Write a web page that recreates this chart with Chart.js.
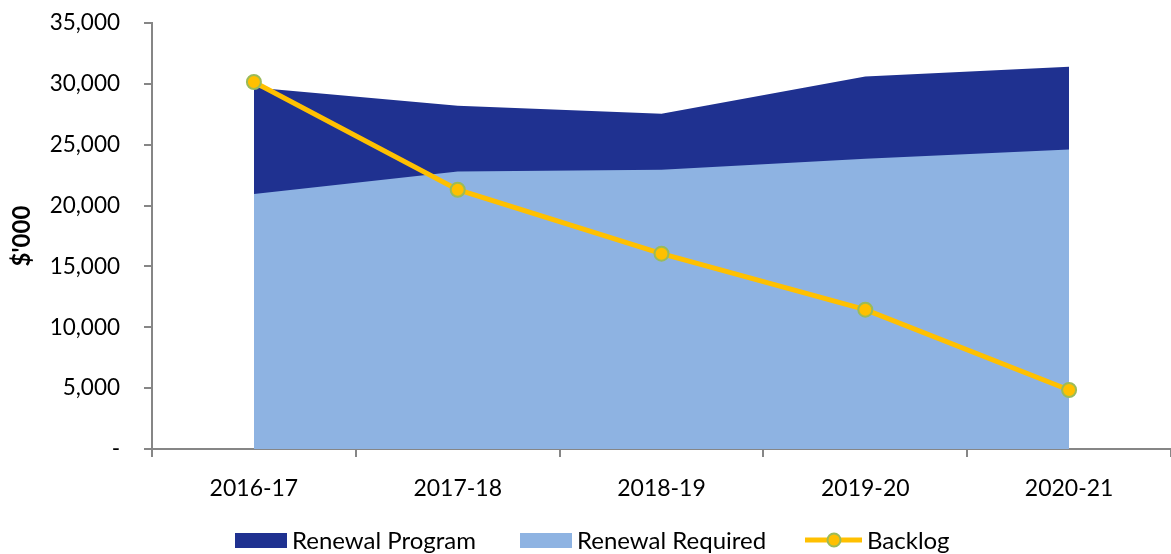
<!DOCTYPE html>
<html>
<head>
<meta charset="utf-8">
<script src="https://cdn.jsdelivr.net/npm/chart.js@4.4.0/dist/chart.umd.min.js"></script>
<style>
  html, body { margin: 0; padding: 0; background: #fff; }
  #wrap { width: 1171px; height: 554px; position: relative; }
</style>
</head>
<body>
<div id="wrap"><canvas id="chart"></canvas></div>
<script>
// values in $'000
const years = ['2016-17', '2017-18', '2018-19', '2019-20', '2020-21'];
const renewalRequired = [20950, 22800, 22950, 23850, 24600];
const renewalProgram = [8750, 5400, 4600, 6750, 6800];
const backlog = [30150, 21300, 16050, 11450, 4850];
const yTicks = [0, 5000, 10000, 15000, 20000, 25000, 30000, 35000];

const FONT = 'Lato, "Liberation Sans", sans-serif';
const DARK = '#1F3190';
const LIGHT = '#8EB3E2';
const GOLD = '#FFC000';
const AXIS = '#868686';

// program sits on top of required (stacked area look)
const programTop = renewalRequired.map((v, i) => v + renewalProgram[i]);

// legend drawn by hand to get the Excel look
const legendPlugin = {
    id: 'legendPlugin',
    afterDraw(chart) {
        const ctx = chart.ctx;
        const y = 541;
        ctx.save();
        ctx.font = '24px ' + FONT;
        ctx.textBaseline = 'middle';

        ctx.fillStyle = DARK;
        ctx.fillRect(235, 533, 52, 15);
        ctx.fillStyle = '#000';
        ctx.fillText('Renewal Program', 292, y);

        ctx.fillStyle = LIGHT;
        ctx.fillRect(520, 533, 52, 15);
        ctx.fillStyle = '#000';
        ctx.fillText('Renewal Required', 577, y);

        ctx.strokeStyle = GOLD;
        ctx.lineWidth = 5;
        ctx.beginPath();
        ctx.moveTo(805, 540);
        ctx.lineTo(862, 540);
        ctx.stroke();
        ctx.beginPath();
        ctx.arc(834, 540, 6.5, 0, Math.PI * 2);
        ctx.fillStyle = GOLD;
        ctx.fill();
        ctx.lineWidth = 2;
        ctx.strokeStyle = '#9BBB59';
        ctx.stroke();
        ctx.fillStyle = '#000';
        ctx.fillText('Backlog', 867, y);
        ctx.restore();
    }
};

new Chart(document.getElementById('chart'), {
    type: 'line',
    data: {
        labels: years,
        datasets: [
            {
                label: 'Renewal Program',
                data: programTop,
                backgroundColor: DARK,
                borderWidth: 0,
                pointRadius: 0,
                fill: 'origin',
                order: 2
            },
            {
                label: 'Renewal Required',
                data: renewalRequired,
                backgroundColor: LIGHT,
                borderWidth: 0,
                pointRadius: 0,
                fill: 'origin',
                order: 1
            },
            {
                label: 'Backlog',
                data: backlog,
                borderColor: GOLD,
                borderWidth: 5,
                pointRadius: 7,
                pointBackgroundColor: GOLD,
                pointBorderColor: '#9BBB59',
                pointBorderWidth: 2,
                fill: false,
                order: 0
            }
        ]
    },
    options: {
        responsive: true,
        maintainAspectRatio: false,
        animation: false,
        layout: { autoPadding: false, padding: { top: 23, right: 0, left: 8, bottom: 0 } },
        plugins: {
            legend: { display: false },
            tooltip: { enabled: false }
        },
        elements: { line: { tension: 0 } },
        scales: {
            x: {
                offset: true,
                grid: {
                    offset: true,
                    drawOnChartArea: false,
                    color: AXIS,
                    tickLength: 8,
                    lineWidth: 2
                },
                border: { color: AXIS, width: 2 },
                ticks: {
                    color: '#000',
                    font: { family: FONT, size: 23 },
                    padding: 18,
                    maxRotation: 0
                },
                afterFit(scale) {
                    scale.height = 105;
                    scale.paddingLeft = 0;
                    scale.paddingRight = 0;
                }
            },
            y: {
                min: 0,
                max: 35000,
                afterBuildTicks(scale) { scale.ticks = yTicks.map(v => ({ value: v })); },
                grid: {
                    drawOnChartArea: false,
                    color: AXIS,
                    tickLength: 8,
                    lineWidth: 2
                },
                border: { color: AXIS, width: 2 },
                ticks: {
                    color: '#000',
                    font: { family: FONT, size: 22.5 },
                    padding: 24,
                    callback: v => v === 0 ? '-' : v.toLocaleString('en-US')
                },
                title: {
                    display: true,
                    text: "$'000",
                    color: '#000',
                    font: { family: FONT, size: 24, weight: 'bold' },
                    padding: 0
                },
                afterFit(scale) {
                    scale.width = 144;
                    scale.paddingTop = 0;
                    scale.paddingBottom = 0;
                }
            }
        }
    },
    plugins: [legendPlugin]
});
</script>
</body>
</html>
